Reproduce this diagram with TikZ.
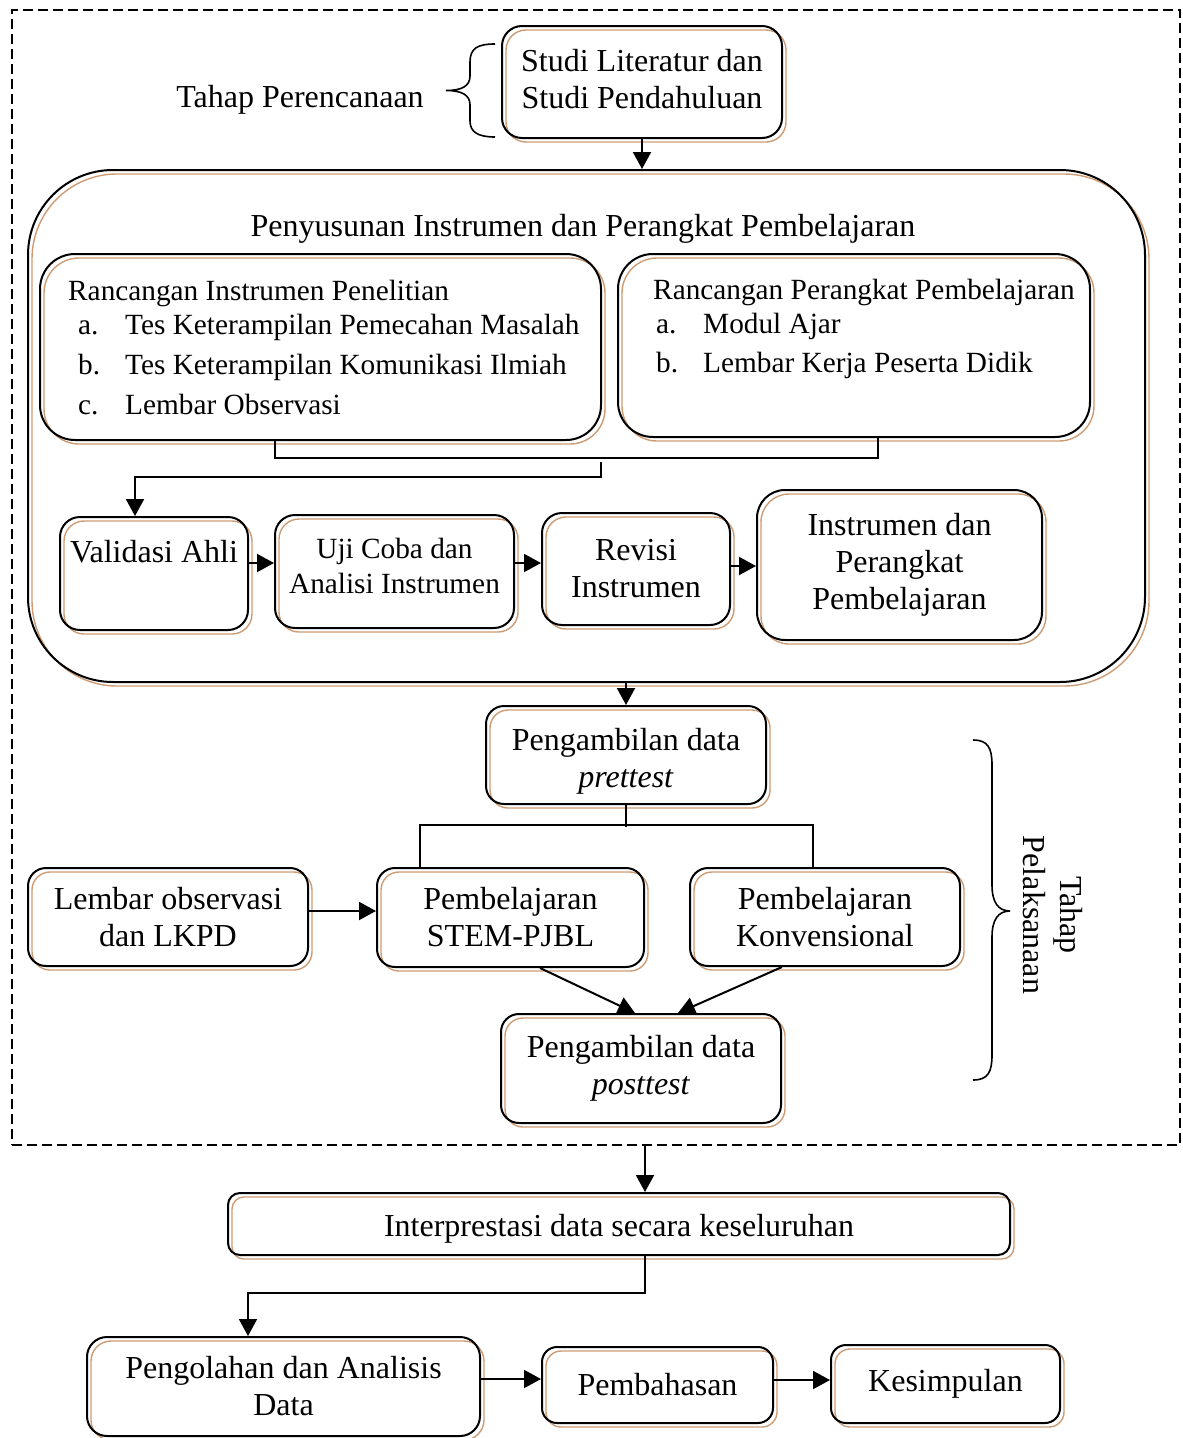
\documentclass[tikz,border=0pt]{standalone}
\usepackage{fontspec}
\setmainfont{Liberation Serif}
\usetikzlibrary{arrows.meta}
\definecolor{tanc}{RGB}{205,155,115}
\newcommand\mfont{\fontsize{32}{37}\selectfont}
\newcommand\sfont{\fontsize{29.3}{34}\selectfont}
\newcommand\ufont{\fontsize{29.3}{35}\selectfont}
\begin{document}
\begin{tikzpicture}[x=1pt,y=-1pt,
  box/.style={draw=black, line width=2pt, rounded corners=#1, align=center, font=\mfont, inner sep=0pt,
     preaction={draw=tanc, line width=1.4pt, transform canvas={shift={(4pt,-4pt)}}}},
  box/.default=18pt,
  conn/.style={draw=black, line width=2pt},
  arrw/.style={conn, -{Triangle[length=17pt,width=18pt]}},
  brc/.style={draw=black, line width=1.6pt},
]
\useasboundingbox (0,0) rectangle (1183,1438);

% dashed frame
\node[draw, line width=2.2pt, dash pattern=on 10pt off 5pt, minimum width=1168pt, minimum height=1135pt, inner sep=0pt] (frame) at (596,577.5) {};

% planning stage
\node[box=20pt, minimum width=280pt, minimum height=112pt] (studi) at (642,82) {Studi Literatur dan\\Studi Pendahuluan\rule[-6pt]{0pt}{6pt}};
\node[font=\mfont] (tper) at (300,100) {Tahap Perencanaan};
\draw[brc] (495,44) .. controls (478,44) and (470,48) .. (470,62) -- (470,76)
  .. controls (470,86) and (462,90.5) .. (446,90.5)
  .. controls (462,90.5) and (470,95) .. (470,105) -- (470,121)
  .. controls (470,132) and (478,137) .. (495,137);

% container
\node[box=85pt, minimum width=1117pt, minimum height=512pt] (cont) at (586.5,426) {};
\node[font=\mfont] (ttl) at (583,229) {Penyusunan Instrumen dan Perangkat Pembelajaran};

\node[box=35pt, minimum width=561pt, minimum height=186pt] (rip) at (320.5,347) {};
\node[anchor=north west, inner sep=0pt, align=left, font=\sfont] (ript) at (68,280) {Rancangan Instrumen Penelitian\\
\hspace*{10pt}\makebox[47pt][l]{a.}Tes Keterampilan Pemecahan Masalah\\[6pt]
\hspace*{10pt}\makebox[47pt][l]{b.}Tes Keterampilan Komunikasi Ilmiah\\[6pt]
\hspace*{10pt}\makebox[47pt][l]{c.}Lembar Observasi};

\node[box=35pt, minimum width=472pt, minimum height=183pt] (rpp) at (854,345.5) {};
\node[anchor=north west, inner sep=0pt, align=left, font=\sfont] (rppt) at (653,279) {Rancangan Perangkat Pembelajaran\\
\hspace*{3pt}\makebox[47pt][l]{a.}Modul Ajar\\[5pt]
\hspace*{3pt}\makebox[47pt][l]{b.}Lembar Kerja Peserta Didik};

\node[box=20pt, minimum width=188pt, minimum height=113pt, text depth=44pt] (val) at (154,573.5) {Validasi Ahli};
\node[box=20pt, minimum width=239pt, minimum height=113pt, font=\ufont] (uji) at (394.5,571.5) {Uji Coba dan\\Analisi Instrumen\rule[-12pt]{0pt}{12pt}};
\node[box=20pt, minimum width=188pt, minimum height=112pt] (rev) at (636,569) {Revisi\\Instrumen};
\node[box=28pt, minimum width=285pt, minimum height=150pt] (ipp) at (899.5,565) {Instrumen dan\\Perangkat\\Pembelajaran};

\draw[conn] ([xshift=-45.5pt]rip.south) -- ++(0,17) -| ([xshift=24pt]rpp.south);
\coordinate (jn) at (601,462);
\draw[arrw] (jn) -- ++(0,15) -| ([xshift=-19pt]val.north);
\draw[arrw] ([yshift=10.5pt]val.east) -- ([yshift=10.5pt]val.east -| uji.west);
\draw[arrw] ([yshift=8.5pt]uji.east) -- ([yshift=8.5pt]uji.east -| rev.west);
\draw[arrw] ([yshift=3pt]rev.east) -- ([yshift=3pt]rev.east -| ipp.west);
\draw[arrw] (studi.south) -- (studi.south |- cont.north);

% implementation stage
\node[box=18pt, minimum width=280pt, minimum height=98pt] (pre) at (626,755) {\rule{0pt}{34pt}Pengambilan data\\\textit{prettest}};
\node[box=18pt, minimum width=280pt, minimum height=98pt] (lem) at (168,917) {Lembar observasi\\dan LKPD};
\node[box=18pt, minimum width=267pt, minimum height=99pt] (stem) at (510.5,917.5) {Pembelajaran\\STEM-PJBL};
\node[box=18pt, minimum width=270pt, minimum height=98pt] (konv) at (825,917) {Pembelajaran\\Konvensional};
\node[box=18pt, minimum width=280pt, minimum height=109pt] (post) at (641,1068.5) {Pengambilan data\\\textit{posttest}};

\draw[arrw] (pre.north |- cont.south) -- (pre.north);
\draw[conn] (pre.south) -- ++(0,22);
\draw[conn] ([xshift=-90.5pt]stem.north) -- ++(0,-42) -| ([xshift=-12pt]konv.north);
\draw[arrw] ([yshift=6pt]lem.east) -- ([yshift=6pt]lem.east -| stem.west);
\draw[arrw] ([xshift=29.5pt]stem.south) -- ([xshift=-6pt]post.north);
\draw[arrw] ([xshift=-43pt]konv.south) -- ([xshift=37pt]post.north);

\draw[brc] (973,740) .. controls (988,740) and (992,748) .. (992,765) -- (992,885)
  .. controls (992,902) and (998,911) .. (1010,911)
  .. controls (998,911) and (992,920) .. (992,937) -- (992,1055)
  .. controls (992,1072) and (988,1080) .. (973,1080);
\node[font=\mfont, align=center, rotate=-90] (tpel) at (1053,915) {Tahap\\Pelaksanaan};

% after
\node[box=12pt, minimum width=782pt, minimum height=62pt] (interp) at (619,1224) {\rule{0pt}{32pt}Interprestasi data secara keseluruhan};
\node[box=20pt, minimum width=393pt, minimum height=99pt] (peng) at (283.5,1386.5) {Pengolahan dan Analisis\\Data};
\node[box=15pt, minimum width=231pt, minimum height=76pt] (bahas) at (657.5,1385) {Pembahasan};
\node[box=15pt, minimum width=229pt, minimum height=78pt] (simp) at (945.5,1384) {Kesimpulan};

\draw[arrw] ([xshift=26pt]interp.north |- frame.south) -- ([xshift=26pt]interp.north);
\draw[arrw] ([xshift=26pt]interp.south) -- ++(0,37) -| ([xshift=-35.5pt]peng.north);
\draw[arrw] ([yshift=7.5pt]peng.east) -- ([yshift=7.5pt]peng.east -| bahas.west);
\draw[arrw] ([yshift=5pt]bahas.east) -- ([yshift=5pt]bahas.east -| simp.west);
\end{tikzpicture}
\end{document}
